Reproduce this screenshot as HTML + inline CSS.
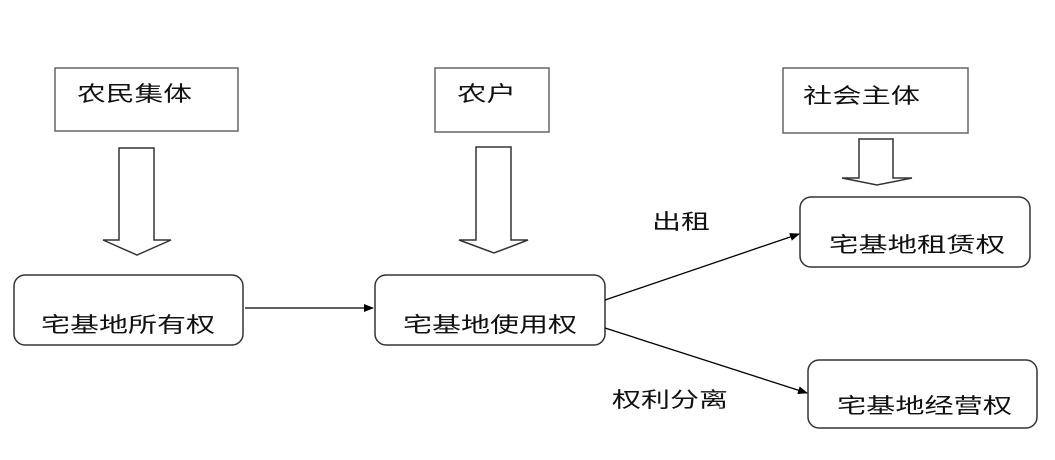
<!DOCTYPE html>
<html><head><meta charset="utf-8"><style>html,body{margin:0;padding:0;background:#fff}</style></head>
<body>
<svg width="1055" height="455" xmlns="http://www.w3.org/2000/svg" font-family="'Liberation Sans','Noto Sans CJK SC',sans-serif" font-size="21" fill="#111">
<defs><marker id="a" markerWidth="10" markerHeight="8" refX="9" refY="4" orient="auto" markerUnits="userSpaceOnUse"><path d="M0,0 L10,4 L0,8z" fill="#000"/></marker></defs>
<g fill="#fff" stroke="#666" stroke-width="1.5">
<rect x="55" y="68" width="183" height="63"/>
<rect x="435" y="68" width="114" height="64"/>
<rect x="783" y="68" width="185" height="65"/>
</g>
<g fill="#fff" stroke="#333" stroke-width="1.5">
<rect x="14" y="275" width="229" height="70" rx="11"/>
<rect x="375" y="275" width="230" height="70" rx="11"/>
<rect x="800" y="197" width="230" height="70" rx="11"/>
<rect x="808" y="360" width="229" height="68" rx="11"/>
</g>
<g fill="#fff" stroke="#333" stroke-width="1.5">
<path d="M119,148 H154 V240 H171 L137,255 L103,240 H119 Z"/>
<path d="M476,147 H511 V240 H528 L494,253 L459,240 H476 Z"/>
<path d="M859,139 H893 V178 H912 L877,185 L842,178 H859 Z"/>
</g>
<g stroke="#000" stroke-width="1.3">
<line x1="245" y1="308" x2="373" y2="308" marker-end="url(#a)"/>
<line x1="605" y1="300" x2="799" y2="234" marker-end="url(#a)"/>
<line x1="605" y1="328" x2="807" y2="393" marker-end="url(#a)"/>
</g>
<g>
<text x="77" y="101" textLength="115" lengthAdjust="spacingAndGlyphs">农民集体</text>
<text x="457" y="101" textLength="59" lengthAdjust="spacingAndGlyphs">农户</text>
<text x="803" y="103" textLength="117" lengthAdjust="spacingAndGlyphs">社会主体</text>
<text x="41" y="332" textLength="174" lengthAdjust="spacingAndGlyphs">宅基地所有权</text>
<text x="403" y="332" textLength="174" lengthAdjust="spacingAndGlyphs">宅基地使用权</text>
<text x="829" y="252" textLength="176" lengthAdjust="spacingAndGlyphs">宅基地租赁权</text>
<text x="837" y="413" textLength="175" lengthAdjust="spacingAndGlyphs">宅基地经营权</text>
<text x="652" y="229" textLength="58" lengthAdjust="spacingAndGlyphs">出租</text>
<text x="612" y="407" textLength="116" lengthAdjust="spacingAndGlyphs">权利分离</text>
</g>
</svg>
</body></html>
